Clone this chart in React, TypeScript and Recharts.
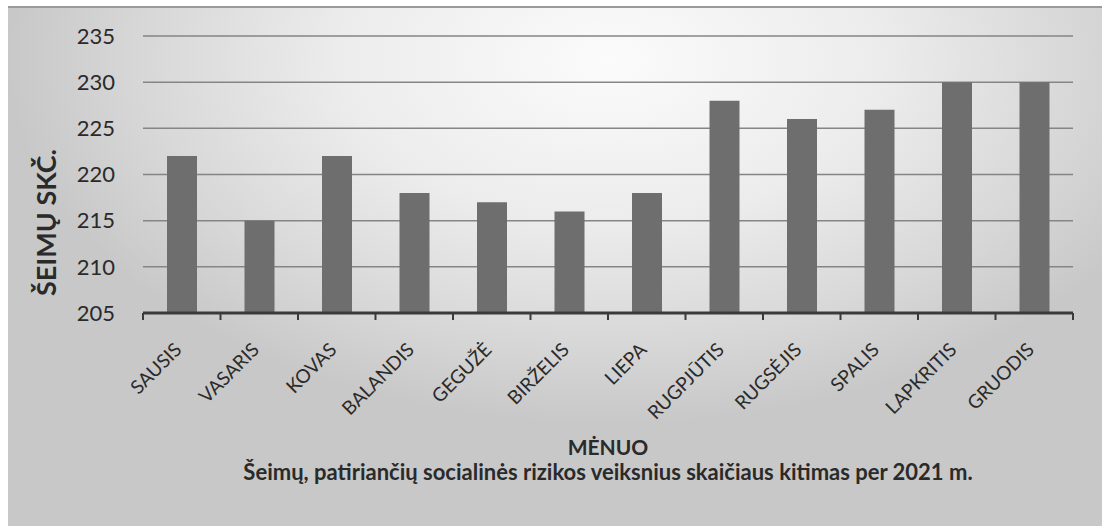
import React from 'react';
import { BarChart, Bar, XAxis, YAxis, CartesianGrid, Label } from 'recharts';

const months = ['SAUSIS', 'VASARIS', 'KOVAS', 'BALANDIS', 'GEGUŽĖ', 'BIRŽELIS', 'LIEPA', 'RUGPJŪTIS', 'RUGSĖJIS', 'SPALIS', 'LAPKRITIS', 'GRUODIS'];
const families = [222, 215, 222, 218, 217, 216, 218, 228, 226, 227, 230, 230];
const yTicks = [205, 210, 215, 220, 225, 230, 235];

const data = months.map((m, i) => ({ month: m, value: families[i] }));

const FONT = 'Lato, "Open Sans", sans-serif';
const W = 1104;
const H = 526;
const MARGIN = { top: 36, right: 31, left: 0, bottom: 0 };
const Y_WIDTH = 143;

const MonthTick = (props: any) => {
  const { x, y, payload, index } = props;
  const band = (W - MARGIN.right - Y_WIDTH - MARGIN.left) / months.length;
  const tx = x + 1;
  const ty = y + 30;
  return (
    <g>
      <line x1={x - band / 2} y1={y - 8} x2={x - band / 2} y2={y - 1} stroke="#3a3a3a" strokeWidth={2} />
      {index === months.length - 1 && (
        <line x1={x + band / 2} y1={y - 8} x2={x + band / 2} y2={y - 1} stroke="#3a3a3a" strokeWidth={2} />
      )}
      <text
        x={tx}
        y={ty}
        textAnchor="end"
        transform={`rotate(-45, ${tx}, ${ty})`}
        fontFamily={FONT}
        fontSize={19}
        fill="#2a2a2a"
      >
        {payload.value}
      </text>
    </g>
  );
};

const YTitle = (props: any) => {
  const { viewBox } = props;
  const cx = 45;
  const cy = viewBox.y + viewBox.height / 2 + 48;
  return (
    <text
      x={cx}
      y={cy}
      transform={`rotate(-90, ${cx}, ${cy})`}
      textAnchor="middle"
      dominantBaseline="central"
      fontFamily={FONT}
      fontSize={27}
      fontWeight={700}
      fill="#2a2a2a"
    >
      ŠEIMŲ SKČ.
    </text>
  );
};

export default function App() {
  return (
    <div style={{ position: 'absolute', left: 0, top: 0, width: W, height: H, background: '#fff', overflow: 'hidden' }}>
      <div
        style={{
          position: 'absolute',
          left: 8,
          top: 6,
          width: W - 10,
          height: H - 6,
          borderTop: '2px solid #9a9a9a',
          background: 'radial-gradient(ellipse 55% 70% at 55% 10%, #fbfbfb 0%, #ececec 45%, #d6d6d6 80%, #c8c8c8 100%)',
        }}
      />
      <div style={{ position: 'absolute', left: 0, top: 0 }}>
        <BarChart width={W} height={H} data={data} margin={MARGIN} barCategoryGap={0}>
          <CartesianGrid vertical={false} stroke="#858585" strokeWidth={1.5} />
          <XAxis
            dataKey="month"
            interval={0}
            tickLine={false}
            axisLine={{ stroke: '#3a3a3a', strokeWidth: 3 }}
            tick={<MonthTick />}
            height={213}
          />
          <YAxis
            domain={[205, 235]}
            ticks={yTicks}
            width={Y_WIDTH}
            axisLine={false}
            tickLine={false}
            tickMargin={22}
            tick={{ fontFamily: FONT, fontSize: 22, fill: '#2a2a2a' }}
          >
            <Label content={<YTitle />} />
          </YAxis>
          <Bar dataKey="value" fill="#6e6e6e" barSize={30} isAnimationActive={false} />
        </BarChart>
      </div>
      <div
        style={{
          position: 'absolute',
          left: 143,
          width: 930,
          top: 434,
          textAlign: 'center',
          fontFamily: FONT,
          fontWeight: 700,
          fontSize: 21,
          color: '#2a2a2a',
        }}
      >
        MĖNUO
      </div>
      <div
        style={{
          position: 'absolute',
          left: 143,
          width: 930,
          top: 458,
          textAlign: 'center',
          fontFamily: FONT,
          fontWeight: 700,
          fontSize: 22,
          color: '#2a2a2a',
        }}
      >
        Šeimų, patiriančių socialinės rizikos veiksnius skaičiaus kitimas per 2021 m.
      </div>
    </div>
  );
}
